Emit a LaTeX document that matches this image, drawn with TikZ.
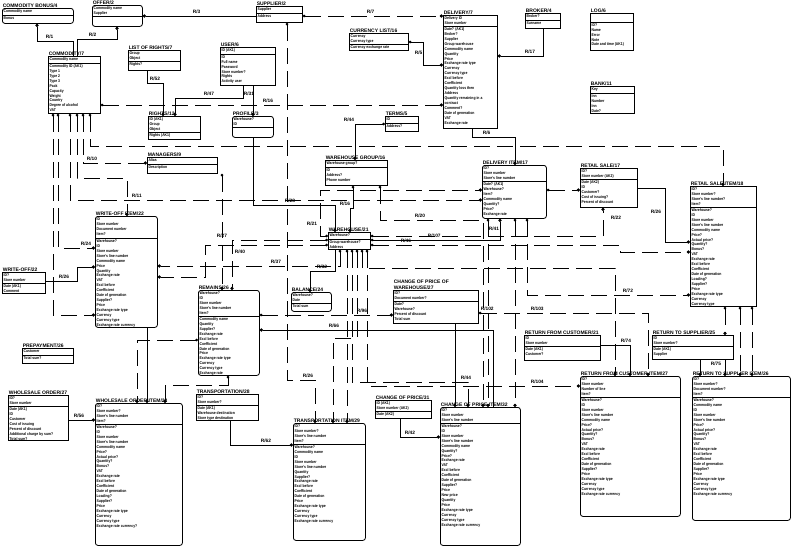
\documentclass[tikz,border=0pt]{standalone}
\usepackage{fontspec}
\setmainfont{Liberation Sans}[FakeStretch=0.85]
\newfontfamily\titlefont{Liberation Sans}
\usetikzlibrary{arrows.meta,positioning}

\tikzset{
  ebox/.style={draw, line width=0.8pt, inner sep=0pt},
  dbox/.style={ebox, rounded corners=2.5pt},
  etitle/.style={inner sep=0.6pt, align=left, font=\titlefont\fontsize{5}{5.4}\selectfont\bfseries},
  etext/.style={inner xsep=1.4pt, inner ysep=1.2pt, align=left, font=\fontsize{4}{4.95}\selectfont\bfseries},
  rel/.style={line width=0.8pt},
  nrel/.style={line width=0.8pt, dash pattern=on 16pt off 7pt},
  lbl/.style={inner sep=0.6pt, anchor=south west, font=\titlefont\fontsize{4.8}{4.8}\selectfont\bfseries},
  dotA/.style={{Circle[length=3.2pt]}-},
  dotB/.style={-{Circle[length=3.2pt]}},
  odot/.style={{Circle[open,length=2.6pt]}-{Circle[length=3.2pt]}},
}

% entity: style, name, position, width, height, key height, title, keys, attributes
\newcommand{\ent}[9]{%
  \node[#1, minimum width=#4pt, minimum height=#5pt, anchor=north west] (#2) at #3 {};
  \node[etitle, anchor=south west] (#2-t) at (#2.north west) {#7};
  \coordinate (#2-s) at ([yshift=-#6pt]#2.north west);
  \draw[line width=0.6pt] (#2-s) -- (#2-s -| #2.east);
  \node[etext, anchor=north west] (#2-k) at (#2.north west) {#8};
  \node[etext, anchor=north west] (#2-a) at (#2-s) {#9};
}

\begin{document}
\begin{tikzpicture}[x=1pt, y=-1pt]
\useasboundingbox[fill=white] (0,0) rectangle (800,550);

% top row
\ent{dbox}{bonus}{(2,8)}{71}{15}{7}{COMMODITY BONUS/4}{Commodity name}{Bonus}
\ent{dbox}{offer}{(92,5)}{50}{21}{11}{OFFER/2}{Commodity name\\Supplier}{}
\ent{ebox}{commodity}{(48,56)}{52}{57}{7}{COMMODITY/7}{Commodity name}
  {Commodity ID (AK1)\\Type 1\\Type 2\\Type 3\\Pack\\Capacity\\Weight\\Country\\Degree of alcohol\\VAT}
\ent{ebox}{listrights}{(128,50)}{52}{20}{11}{LIST OF RIGHTS/7}{Group\\Object}{Rights?}
\ent{ebox}{rights}{(148,116)}{52}{23}{16}{RIGHTS/12}{ID (AK1)\\Group\\Object}{Rights (AK1)}
\ent{ebox}{user}{(220,47)}{55}{38}{7}{USER/6}{ID (AK1)}
  {ID\\Full name\\Password\\Store number?\\Rights\\Activity user}
\ent{ebox}{supplier}{(256,6)}{46}{16}{7}{SUPPLIER/2}{Supplier}{Address}
\ent{ebox}{currency}{(349,33)}{59}{17}{11}{CURRENCY LIST/16}{Currency\\Currency type}{Currency exchange rate}
\ent{dbox}{profile}{(232,116)}{41}{21}{11}{PROFILE/3}{Warehouse?\\ID}{}
\ent{ebox}{terms}{(385,116)}{33}{15}{7}{TERMS/5}{ID}{Address?}
\ent{ebox}{delivery}{(443,15)}{54}{113}{11}{DELIVERY/7}{Delivery ID\\Store number}
  {Date? (AK1)\\Broker?\\Supplier\\Group warehouse\\Commodity name\\Quantity\\Price\\Exchange rate type\\Currency\\Currency type\\Excl before\\Coefficient\\Quantity loss then\\Address\\Quantity remaining in a\\contract\\Comment?\\Date of generation\\VAT\\Exchange rate}
\ent{ebox}{broker}{(525,13)}{35}{15}{7}{BROKER/4}{Broker?}{Surname}
\ent{ebox}{log}{(590,13)}{43}{37}{9}{LOG/6}{}{ID?\\Name\\Error\\Note\\Date and time (AK1)}
\ent{ebox}{bank}{(590,86)}{44}{27}{7}{BANK/11}{Key}{Inn\\Number\\Inn\\Date?}

% middle
\ent{ebox}{managers}{(147,157)}{70}{16}{7}{MANAGERS/9}{Alias}{Description}
\ent{ebox}{whgroup}{(325,160)}{62}{25}{7}{WAREHOUSE GROUP/16}{Warehouse group?}{ID\\Address?\\Phone number}
\ent{dbox}{delitem}{(482,165)}{64}{53}{16}{DELIVERY ITEM/17}{ID?\\Store number\\Store's line number}
  {Date? (AK1)\\Warehouse?\\Item?\\Commodity name\\Quantity?\\Price?\\Exchange rate}
\ent{ebox}{retail}{(580,168)}{57}{39}{11}{RETAIL SALE/17}{ID?\\Store number (AK2)}
  {Date (AK2)\\ID\\Customer?\\Cost of issuing?\\Percent of discount}
\ent{ebox}{retitem}{(690,186)}{66}{120}{21}{RETAIL SALE ITEM/18}{ID?\\Store number?\\Store's line number?\\Item?}
  {Warehouse?\\ID\\Store number\\Store's line number\\Commodity name\\Price?\\Actual price?\\Quantity?\\Bonus?\\VAT\\Exchange rate\\Excl before\\Coefficient\\Date of generation\\Loading?\\Supplier?\\Price\\Exchange rate type\\Currency\\Currency type}
\ent{dbox}{wrtitem}{(95,216)}{62}{111}{22}{WRITE-OFF ITEM/22}{ID\\Store number\\Document number\\Item?}
  {Warehouse?\\ID\\Store number\\Store's line number\\Commodity name\\Price\\Quantity\\Exchange rate\\VAT\\Excl before\\Coefficient\\Date of generation\\Supplier?\\Price\\Exchange rate type\\Currency\\Currency type\\Exchange rate currency}
\ent{ebox}{warehouse}{(328,232)}{42}{17}{7}{WAREHOUSE/21}{Warehouse?}{Group warehouse?\\Address}
\ent{ebox}{writeoff}{(2,272)}{43}{21}{11}{WRITE-OFF/22}{ID?\\Store number}{Date (AK1)\\Comment}
\ent{dbox}{remains}{(198,290)}{61}{85}{26}{REMAINS/26}{Warehouse?\\ID\\Store number\\Store's line number\\Item?}
  {Commodity name\\Quantity\\Supplier?\\Exchange rate\\Excl before\\Coefficient\\Date of generation\\Price\\Exchange rate type\\Currency\\Currency type\\Exchange rate}
\ent{dbox}{balance}{(291,292)}{40}{19}{11}{BALANCE/24}{Warehouse?\\Date}{Total sum}
\ent{ebox}{chprwh}{(393,290)}{85}{33}{11}{CHANGE OF PRICE OF\\WAREHOUSE/27}{ID?\\Document number?}
  {Date?\\Warehouse?\\Percent of discount\\Total sum}
\ent{ebox}{retcust}{(524,335)}{76}{25}{11}{RETURN FROM CUSTOMER/21}{ID\\Store number}{Date (AK1)\\Customer?}
\ent{ebox}{retsup}{(652,335)}{81}{24}{11}{RETURN TO SUPPLIER/25}{ID\\Store number?}{Date (AK1)\\Supplier}
\ent{ebox}{prepay}{(22,348)}{51}{15}{7}{PREPAYMENT/26}{Customer}{Total sum?}

% bottom
\ent{ebox}{wholesale}{(8,395)}{60}{45}{11}{WHOLESALE ORDER/27}{ID?\\Store number}
  {Date (AK1)\\ID\\Customer\\Cost of issuing\\Percent of discount\\Additional charge by sum?\\Total sum?}
\ent{dbox}{wsitem}{(95,403)}{87}{142}{21}{WHOLESALE ORDER ITEM/28}{ID?\\Store number?\\Store's line number\\Item?}
  {Warehouse?\\ID\\Store number\\Store's line number\\Commodity name\\Price?\\Actual price?\\Quantity?\\Bonus?\\VAT\\Exchange rate\\Excl before\\Coefficient\\Date of generation\\Loading?\\Supplier?\\Price\\Exchange rate type\\Currency\\Currency type\\Exchange rate currency?}
\ent{ebox}{transp}{(196,394)}{62}{26}{11}{TRANSPORTATION/28}{ID?\\Store number?}{Date (AK1)\\Warehouse destination\\Store type destination}
\ent{dbox}{tritem}{(293,423)}{72}{117}{21}{TRANSPORTATION ITEM/29}{ID?\\Store number?\\Store's line number\\Item?}
  {Warehouse?\\Commodity name\\ID\\Store number\\Store's line number\\Quantity\\Supplier?\\Exchange rate\\Excl before\\Coefficient\\Date of generation\\Price\\Exchange rate type\\Currency\\Currency type\\Exchange rate currency}
\ent{ebox}{chprice}{(375,400)}{56}{18}{11}{CHANGE OF PRICE/31}{ID (AK1)\\Store number (AK2)}{Date (AK2)}
\ent{dbox}{chpritem}{(440,407)}{80}{138}{16}{CHANGE OF PRICE ITEM/32}{ID?\\Store number\\Store's line number}
  {Warehouse?\\ID\\Store number\\Store's line number\\Commodity name\\Quantity?\\Price?\\Exchange rate\\VAT\\Excl before\\Coefficient\\Date of generation\\Supplier?\\Price\\New price\\Quantity\\Price\\Exchange rate type\\Currency\\Currency type\\Exchange rate currency}
\ent{dbox}{retcustitem}{(580,376)}{100}{140}{21}{RETURN FROM CUSTOMER ITEM/27}{ID?\\Store number\\Number of line\\Item?}
  {Warehouse?\\ID\\Store number\\Store's line number\\Commodity name\\Price?\\Actual price?\\Quantity?\\Bonus?\\VAT\\Exchange rate\\Excl before\\Coefficient\\Date of generation\\Supplier?\\Price\\Exchange rate type\\Currency\\Currency type\\Exchange rate currency}
\ent{dbox}{retsupitem}{(692,376)}{98}{144}{21}{RETURN TO SUPPLIER ITEM/26}{ID?\\Store number?\\Document number?\\Item?}
  {Warehouse?\\Commodity name\\ID\\Store number\\Store's line number\\Price?\\Actual price?\\Quantity?\\Bonus?\\VAT\\Exchange rate\\Excl before\\Coefficient\\Date of generation\\Supplier?\\Price\\Exchange rate type\\Currency\\Currency type\\Exchange rate currency}

% relationships, top
\draw[rel,dotA] (bonus.south -| 37,0) -- (37,41) -| (commodity.north -| 73,0);
\draw[rel,dotA] (offer.south -| 117,0) -- (117,39) -| (commodity.north -| 77,0);
\draw[rel,dotA] (offer.east |- 0,16) -- (supplier.west |- 0,16);
\draw[nrel,odot] (supplier.east |- 0,16) -- (delivery.west |- 0,16);
\draw[rel,dotB] (listrights.south -| 147,0) -- (147,83) -| (rights.north -| 163,0);
\draw[rel,dotB] (user.south -| 243,0) -- (243,98) -| (rights.north -| 175,0);
\draw[rel,dotB] (user.south -| 253,0) -- (profile.north -| 253,0);
\draw[nrel,odot] (commodity.east |- 0,105) -- (delivery.west |- 0,105);
\draw[rel,odot] (currency.east |- 0,42) -- (423,42) |- (delivery.west |- 0,65);
\draw[rel,dotB] (broker.south) -- (broker.south |- 0,56) -- (delivery.east |- 0,56);
\draw[rel,odot] (terms.west |- 0,124) -- (355,124) -- (whgroup.north -| 355,0);
\draw[rel,dotB] (delivery.south -| 472,0) -- (472,137) -| (delitem.north -| 515,0);
\draw[rel,dotB] (profile.south -| 253,0) -- (253,205) -| (warehouse.north -| 335,0);
\draw[rel,odot] (whgroup.south -| 353,0) -- (353,208) -| (warehouse.north -| 350,0);

% relationships, middle
\draw[nrel,odot] (commodity.south -| 90,0) -- (90,146) -| (retitem.north -| 723,0);
\draw[nrel,odot] (commodity.south -| 83,0) -- (83,163) -- (managers.west |- 0,163);
\draw[nrel,odot] (commodity.south -| 77,0) -- (77,178) -| (wrtitem.north -| 127,0);
\draw[nrel,odot] (commodity.south -| 70,0) -- (70,200) -- (delitem.west |- 0,200);
\draw[nrel,odot] (commodity.south -| 58,0) -- (58,248) -- (wrtitem.west |- 0,248);
\draw[nrel,odot] (commodity.south -| 53,0) -- (53,315) -- (wrtitem.west |- 0,315);
\draw[nrel,odot] (whgroup.south -| 380,0) -- (380,220) -| (chpritem.north -| 483,0);
\draw[nrel,odot] (delitem.south -| 488,0) -- (chpritem.north -| 488,0);
\draw[nrel,odot] (delitem.south -| 515,0) -- (chpritem.north -| 515,0);
\draw[rel,odot] (warehouse.east |- 0,240) -- (500,240) -- (delitem.south -| 500,0);
\draw[nrel,odot] (delitem.south -| 527,0) -- (527,295) -- (retitem.west |- 0,295);
\draw[nrel,odot] (delitem.east |- 0,190) -- (retail.west |- 0,190);
\draw[nrel,odot] (warehouse.west |- 0,236) -- (320,236) |- (delitem.west |- 0,190);
\draw[nrel,odot] (warehouse.east |- 0,236) -- (603,236) -- (retail.south -| 603,0);
\draw[rel,dotB] (retail.east |- 0,188) -- (665,188) |- (retitem.west |- 0,242);
\draw[nrel,odot] (warehouse.east |- 0,245) -- (620,245) |- (retitem.west |- 0,252);
\draw[nrel,odot] (warehouse.south -| 362,0) -- (362,268) -| (retcustitem.north -| 615,0);
\draw[nrel,odot] (chprwh.east |- 0,313) -- (648,313) -- (retcustitem.north -| 648,0);
\draw[nrel,odot] (retitem.south -| 725,0) -- (retsup.north -| 725,0);
\draw[rel,dotB] (retsup.south -| 725,0) -- (retsupitem.north -| 725,0);
\draw[nrel,odot] (retitem.south -| 740,0) -- (retsupitem.north -| 740,0);
\draw[nrel,odot] (retitem.south -| 752,0) -- (retsupitem.north -| 752,0);
\draw[rel,dotB] (retcust.east |- 0,345) -- (630,345) -- (retcustitem.north -| 630,0);
\draw[rel,dotB] (retsup.south -| 700,0) -- (retsupitem.north -| 700,0);

% relationships, lower left
\draw[rel,dotB] (writeoff.east |- 0,281) -- (77,281) |- (wrtitem.west |- 0,267);
\draw[nrel,odot] (warehouse.south -| 340,0) -- (340,266) -- (wrtitem.east |- 0,266);
\draw[rel,dotB] (warehouse.south -| 335,0) -- (335,271) -| (balance.north -| 310,0);
\draw[nrel,odot] (warehouse.west |- 0,240) -- (232,240) -- (remains.north -| 232,0);
\draw[nrel,odot] (warehouse.west |- 0,245) -- (205,245) |- (wrtitem.east |- 0,277);
\draw[nrel,odot] (managers.south -| 222,0) -- (remains.north -| 222,0);
\draw[rel,dotA] (remains.east |- 0,330) -- (493,330) -- (chpritem.north -| 493,0);
\draw[nrel,odot] (remains.east |- 0,315) -- (chprwh.west |- 0,315);
\draw[nrel,odot] (supplier.south -| 287,0) -- (287,380) -| (tritem.north -| 315,0);
\draw[nrel,odot] (warehouse.south -| 357,0) -- (357,338) -| (tritem.north -| 333,0);
\draw[nrel,odot] (warehouse.south -| 352,0) -- (352,382) -| (chpritem.north -| 468,0);
\draw[nrel,odot] (warehouse.south -| 347,0) -- (tritem.north -| 347,0);
\draw[nrel,odot] (warehouse.south -| 367,0) -- (367,386) -- (retcustitem.west |- 0,386);

% relationships, bottom
\draw[rel,dotB] (wholesale.east |- 0,420) -- (wsitem.west |- 0,420);
\draw[rel,dotB] (wrtitem.south -| 147,0) -- (wsitem.north -| 147,0);
\draw[nrel,odot] (remains.west |- 0,340) -- (137,340) -- (wsitem.north -| 137,0);
\draw[nrel,odot] (remains.south -| 228,0) -- (228,385) -| (wsitem.north -| 165,0);
\draw[rel,dotB] (transp.south -| 230,0) -- (230,445) -- (tritem.west |- 0,445);
\draw[rel,dotB] (chprice.south -| 400,0) -- (400,437) -- (chpritem.west |- 0,437);
\draw[rel,dotB] (chprwh.south -| 455,0) -- (chpritem.north -| 455,0);

% relationship names
\node[lbl] (r1) at (45,39) {R/1};
\node[lbl] (r2) at (88,37) {R/2};
\node[lbl] (r3) at (192,14) {R/3};
\node[lbl] (r7) at (366,14) {R/7};
\node[lbl] (r52) at (149,81) {R/52};
\node[lbl] (r47) at (203,96) {R/47};
\node[lbl] (r31) at (243,96) {R/31};
\node[lbl] (r16) at (262,103) {R/16};
\node[lbl] (r5) at (414,55) {R/5};
\node[lbl] (r17) at (524,54) {R/17};
\node[lbl] (r44) at (343,122) {R/44};
\node[lbl] (r6) at (482,135) {R/6};
\node[lbl] (r28) at (284,203) {R/28};
\node[lbl] (r16b) at (339,206) {R/16};
\node[lbl] (r10) at (86,161) {R/10};
\node[lbl] (r11) at (131,198) {R/11};
\node[lbl] (r20) at (414,218) {R/20};
\node[lbl] (r21) at (306,226) {R/21};
\node[lbl] (r41) at (488,231) {R/41};
\node[lbl] (r46) at (400,243) {R/46};
\node[lbl] (r107) at (427,238) {R/107};
\node[lbl] (r22) at (610,220) {R/22};
\node[lbl] (r26) at (650,214) {R/26};
\node[lbl] (r72) at (622,293) {R/72};
\node[lbl] (r102) at (480,311) {R/102};
\node[lbl] (r103) at (530,311) {R/103};
\node[lbl] (r74) at (620,343) {R/74};
\node[lbl] (r75) at (710,366) {R/75};
\node[lbl] (r24) at (80,246) {R/24};
\node[lbl] (r26b) at (58,279) {R/26};
\node[lbl] (r37) at (270,264) {R/37};
\node[lbl] (r32) at (316,269) {R/32};
\node[lbl] (r27) at (216,238) {R/27};
\node[lbl] (r40) at (234,254) {R/40};
\node[lbl] (r66) at (328,328) {R/66};
\node[lbl] (r96) at (356,313) {R/96};
\node[lbl] (r26c) at (302,378) {R/26};
\node[lbl] (r44b) at (460,380) {R/44};
\node[lbl] (r104) at (530,384) {R/104};
\node[lbl] (r56) at (73,418) {R/56};
\node[lbl] (r62) at (260,443) {R/62};
\node[lbl] (r42) at (404,435) {R/42};
\end{tikzpicture}
\end{document}
